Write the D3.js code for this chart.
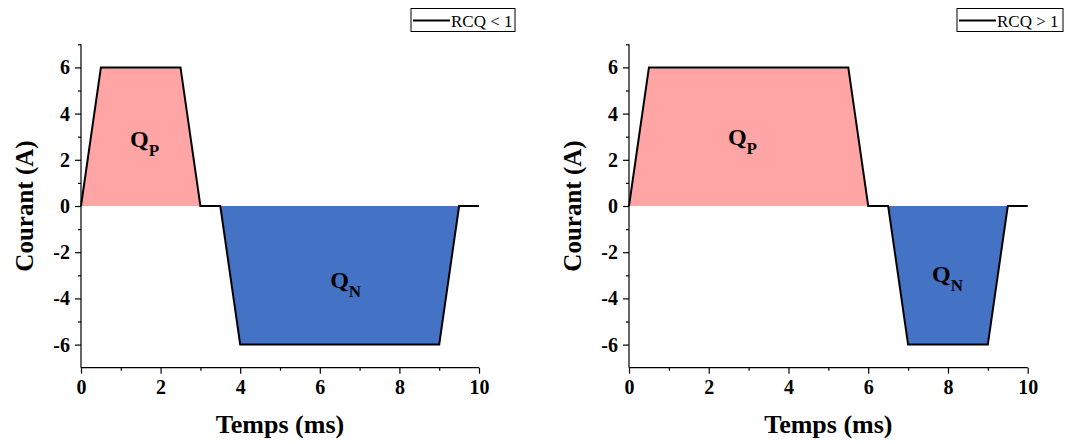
<!DOCTYPE html>
<html><head><meta charset="utf-8">
<script src="https://cdn.jsdelivr.net/npm/d3@7"></script>
<style>
body{margin:0;background:#fff;}
svg text{font-family:"Liberation Serif","Times New Roman",Times,serif !important;}
</style></head>
<body><svg id="c" width="1065" height="444"></svg>
<script>
// ---- data ----
const timeLeft = [0, 0.5, 2.5, 3, 3.5, 4, 9, 9.5, 10];
const currentLeft = [0, 6, 6, 0, 0, -6, -6, 0, 0];
const timeRight = [0, 0.5, 5.5, 6, 6.5, 7, 9, 9.5, 10];
const currentRight = [0, 6, 6, 0, 0, -6, -6, 0, 0];
const legendLabels = ["RCQ < 1", "RCQ > 1"];
const xTicks = [0, 2, 4, 6, 8, 10];
const yTicks = [-6, -4, -2, 0, 2, 4, 6];
const xMinor = [1, 3, 5, 7, 9];
const yMinor = [-5, -3, -1, 1, 3, 5, 7];
const xDomain = [0, 10];
const yDomain = [-7, 7];
// label anchors in data units: [x, y]
const qpPos = [[1.23, 2.55], [2.48, 2.62]];
const qnPos = [[6.26, -3.55], [7.6, -3.3]];

const svg = d3.select("#c");
const panels = [
  {t: timeLeft, v: currentLeft, x0: 81, x1: 479, leg: legendLabels[0], legX: 411, legW: 104, qp: qpPos[0], qn: qnPos[0], ylabX: 25},
  {t: timeRight, v: currentRight, x0: 629, x1: 1027.7, leg: legendLabels[1], legX: 957, legW: 106, qp: qpPos[1], qn: qnPos[1], ylabX: 573}
];

panels.forEach(p => {
  const x = d3.scaleLinear().domain(xDomain).range([p.x0, p.x1]);
  const y = d3.scaleLinear().domain(yDomain).range([367.7, 44.3]);
  const data = p.t.map((t, i) => ({t, v: p.v[i]}));
  const g = svg.append("g");

  g.append("path").datum(data)
    .attr("fill", "#FFA5A5")
    .attr("d", d3.area().x(d => x(d.t)).y0(y(0)).y1(d => y(Math.max(d.v, 0))));
  g.append("path").datum(data)
    .attr("fill", "#4472C4")
    .attr("d", d3.area().x(d => x(d.t)).y0(y(0)).y1(d => y(Math.min(d.v, 0))));
  g.append("path").datum(data)
    .attr("fill", "none").attr("stroke", "#000").attr("stroke-width", 2)
    .attr("stroke-linejoin", "miter")
    .attr("d", d3.line().x(d => x(d.t)).y(d => y(d.v)));

  // axes
  const xa = g.append("g").attr("transform", `translate(0,${y(-7)})`)
    .call(d3.axisBottom(x).tickValues(xTicks).tickSize(6).tickPadding(6).tickFormat(d3.format("d")));
  g.append("g").attr("transform", `translate(0,${y(-7)})`)
    .call(d3.axisBottom(x).tickValues(xMinor).tickSize(3).tickFormat(""))
    .select(".domain").remove();
  const ya = g.append("g").attr("transform", `translate(${x(0)},0)`)
    .call(d3.axisLeft(y).tickValues(yTicks).tickSize(6).tickPadding(5).tickFormat(d => d < 0 ? "-" + Math.abs(d) : d));
  g.append("g").attr("transform", `translate(${x(0)},0)`)
    .call(d3.axisLeft(y).tickValues(yMinor).tickSize(3).tickFormat(""))
    .select(".domain").remove();
  xa.select(".domain").attr("d", `M${x(0)},0H${x(10)}`).attr("stroke", "#000").attr("stroke-width", 1.2);
  ya.select(".domain").attr("d", `M0,${y(7)}V${y(-7)}`).attr("stroke", "#000").attr("stroke-width", 1.2);
  g.selectAll(".tick line").attr("stroke", "#000").attr("stroke-width", 1.2);
  g.selectAll(".tick text").attr("font-weight", "bold")
    .attr("font-size", 20).attr("fill", "#000");

  // axis titles
  g.append("text").attr("x", (p.x0 + p.x1) / 2).attr("y", 433)
    .attr("text-anchor", "middle").attr("font-weight", "bold").attr("font-size", 26)
    .text("Temps (ms)");
  g.append("text").attr("transform", `translate(${p.ylabX + 8},${y(0)}) rotate(-90)`)
    .attr("text-anchor", "middle").attr("font-weight", "bold").attr("font-size", 25)
    .text("Courant (A)");

  // Q labels
  const ql = (pos, sub) => {
    const t = g.append("text").attr("x", x(pos[0])).attr("y", y(pos[1]))
      .attr("font-weight", "bold").attr("font-size", 24);
    t.append("tspan").text("Q");
    t.append("tspan").attr("font-size", 17).attr("dy", 9).text(sub);
  };
  ql(p.qp, "P");
  ql(p.qn, "N");

  // legend
  const lg = g.append("g");
  lg.append("rect").attr("x", p.legX).attr("y", 8.5).attr("width", p.legW).attr("height", 23)
    .attr("fill", "#fff").attr("stroke", "#000").attr("stroke-width", 1);
  lg.append("line").attr("x1", p.legX + 2).attr("x2", p.legX + 39).attr("y1", 20.5).attr("y2", 20.5)
    .attr("stroke", "#000").attr("stroke-width", 2);
  lg.append("text").attr("x", p.legX + 40).attr("y", 26.5).attr("font-size", 17).text(p.leg);
});
</script></body></html>
